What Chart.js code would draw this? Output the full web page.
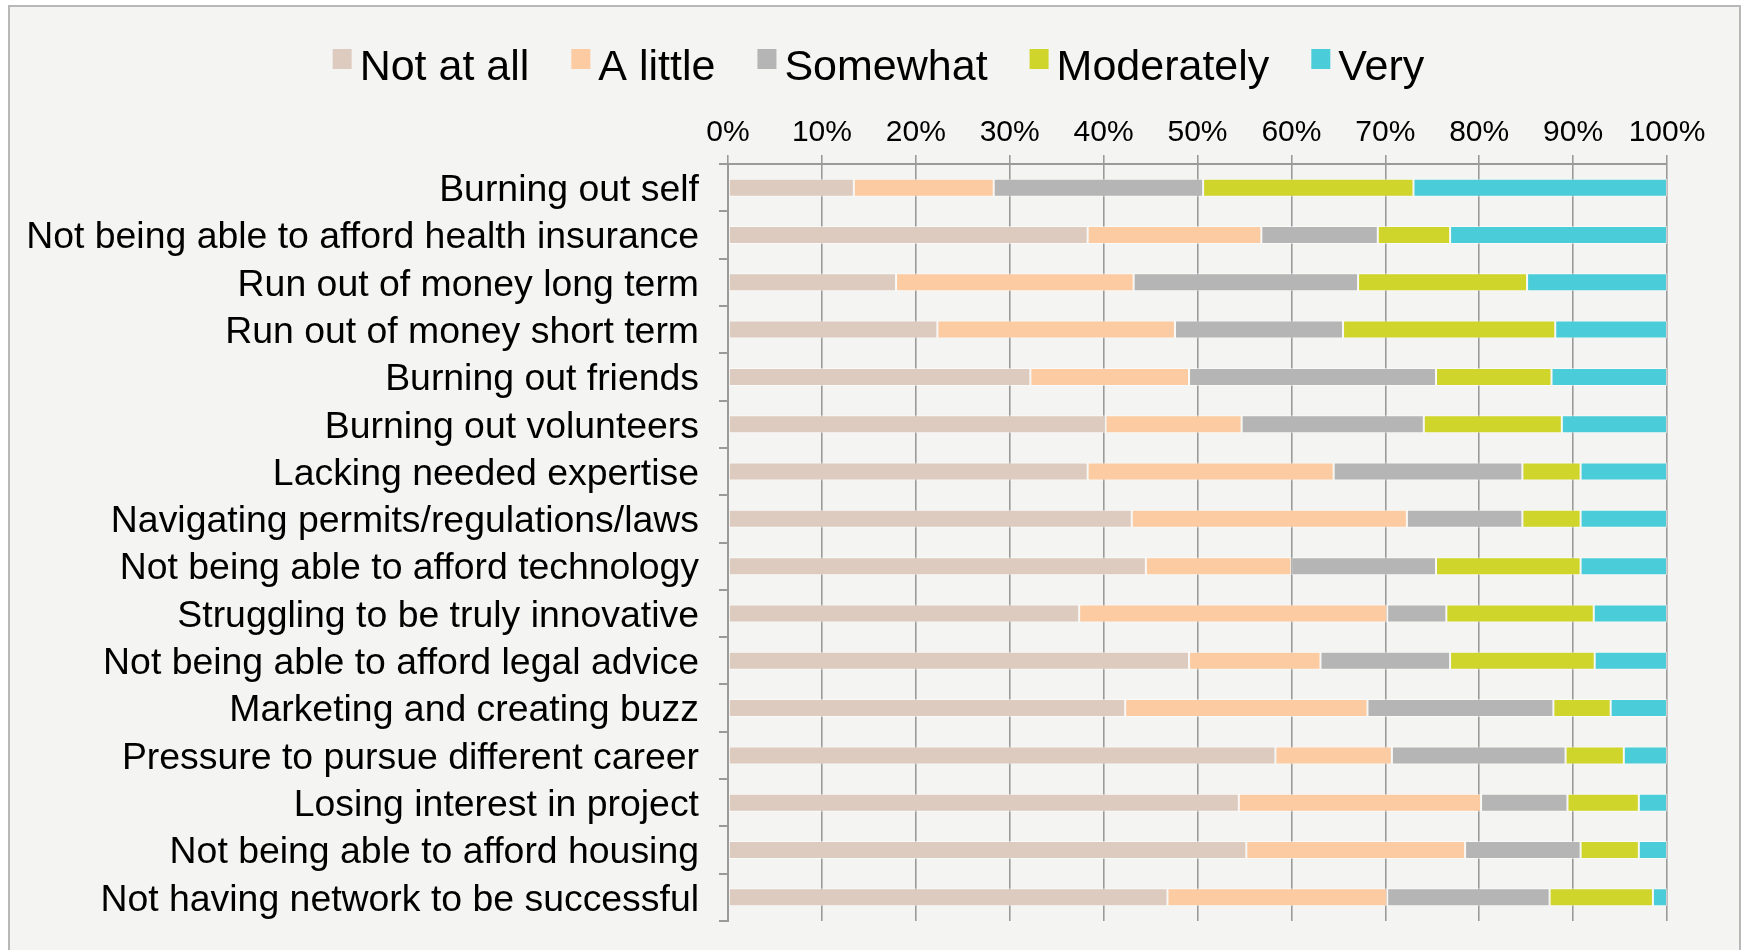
<!DOCTYPE html>
<html><head><meta charset="utf-8">
<script src="https://cdn.jsdelivr.net/npm/chart.js@4/dist/chart.umd.min.js"></script>
<style>
html,body{margin:0;padding:0;background:#fff;width:1741px;height:950px;overflow:hidden;}
#frame{position:absolute;left:8px;top:5px;width:1733px;height:980px;border:2px solid #b8b8b8;background:#f4f4f2;box-sizing:border-box;}
#c{position:absolute;left:0;top:0;}
</style></head><body>
<div id="frame"></div>
<canvas id="c" width="1741" height="950"></canvas>
<script>
const categories = [
  "Burning out self",
  "Not being able to afford health insurance",
  "Run out of money long term",
  "Run out of money short term",
  "Burning out friends",
  "Burning out volunteers",
  "Lacking needed expertise",
  "Navigating permits/regulations/laws",
  "Not being able to afford technology",
  "Struggling to be truly innovative",
  "Not being able to afford legal advice",
  "Marketing and creating buzz",
  "Pressure to pursue different career",
  "Losing interest in project",
  "Not being able to afford housing",
  "Not having network to be successful"
];
const seriesNames = ["Not at all", "A little", "Somewhat", "Moderately", "Very"];
const notAtAll   = [13.4, 38.3, 17.9, 22.3, 32.2, 40.2, 38.3, 43.0, 44.5, 37.4, 49.1, 42.3, 58.3, 54.4, 55.2, 46.8];
const aLittle    = [14.9, 18.5, 25.3, 25.3, 16.9, 14.5, 26.2, 29.3, 15.5, 32.8, 14.0, 25.8, 12.4, 25.8, 23.3, 23.4];
const somewhat   = [22.3, 12.4, 23.9, 17.9, 26.3, 19.4, 20.1, 12.3, 15.4, 6.3, 13.8, 19.8, 18.5, 9.2, 12.3, 17.3];
const moderately = [22.4, 7.7, 18.0, 22.6, 12.3, 14.7, 6.2, 6.2, 15.4, 15.7, 15.4, 6.1, 6.2, 7.6, 6.2, 11.0];
const very       = [27.0, 23.1, 14.9, 11.9, 12.3, 11.2, 9.2, 9.2, 9.2, 7.8, 7.7, 6.0, 4.6, 3.0, 3.0, 1.5];
const tickLabelSuffix = "%";

const colors = ["#ddcbbf", "#fdcba1", "#b5b5b5", "#cfd52a", "#4acdd8"];
const seriesValues = [notAtAll, aLittle, somewhat, moderately, very];
const FONT = '"Liberation Sans", Arial, Helvetica, sans-serif';

const customLegend = {
  id: 'customLegend',
  afterDraw(chart) {
    const ctx = chart.ctx;
    ctx.save();
    ctx.font = '43px ' + FONT;
    ctx.textBaseline = 'alphabetic';
    const boxW = 19, boxH = 20, gap = 8, itemGap = 42;
    const items = chart.data.datasets.map(d => ({text: d.label, color: d.backgroundColor, w: ctx.measureText(d.label).width}));
    const total = items.reduce((s, it) => s + boxW + gap + it.w, 0) + itemGap * (items.length - 1);
    let x = 878.5 - total / 2;
    items.forEach(it => {
      ctx.fillStyle = it.color;
      ctx.fillRect(x, 49, boxW, boxH);
      ctx.fillStyle = '#000';
      ctx.fillText(it.text, x + boxW + gap, 80);
      x += boxW + gap + it.w + itemGap;
    });
    ctx.restore();
  }
};

new Chart(document.getElementById('c'), {
  type: 'bar',
  data: {
    labels: categories,
    datasets: seriesNames.map((name, i) => ({
      label: name,
      data: seriesValues[i],
      backgroundColor: colors[i],
      borderColor: 'rgba(255,255,255,0.5)',
      borderWidth: 1,
      borderSkipped: false,
      barPercentage: 0.38,
      categoryPercentage: 1.0
    }))
  },
  options: {
    indexAxis: 'y',
    responsive: false,
    animation: false,
    devicePixelRatio: 1,
    layout: {padding: {top: 113, right: 74, bottom: 29, left: 0}},
    plugins: {
      legend: {display: false},
      tooltip: {enabled: false}
    },
    scales: {
      x: {
        position: 'top',
        stacked: true,
        min: 0, max: 100,
        afterFit(scale) { scale.height = 51; },
        ticks: {
          stepSize: 10,
          autoSkip: false,
          maxRotation: 0,
          padding: 4,
          color: '#000',
          font: {family: FONT, size: 30},
          callback: v => v + tickLabelSuffix
        },
        grid: {color: '#9a9a9a', lineWidth: 1.6, tickLength: 9, drawTicks: true},
        border: {color: '#9a9a9a', width: 2}
      },
      y: {
        stacked: true,
        afterFit(scale) { scale.width = 728; scale.paddingTop = 0; scale.paddingBottom = 0; },
        ticks: {
          padding: 20,
          labelOffset: 3,
          color: '#000',
          font: {family: FONT, size: 37.4},
          autoSkip: false
        },
        grid: {drawOnChartArea: false, color: '#9a9a9a', lineWidth: 2, tickLength: 9, offset: true},
        border: {color: '#9a9a9a', width: 2}
      }
    }
  },
  plugins: [customLegend]
});
</script>
</body></html>
